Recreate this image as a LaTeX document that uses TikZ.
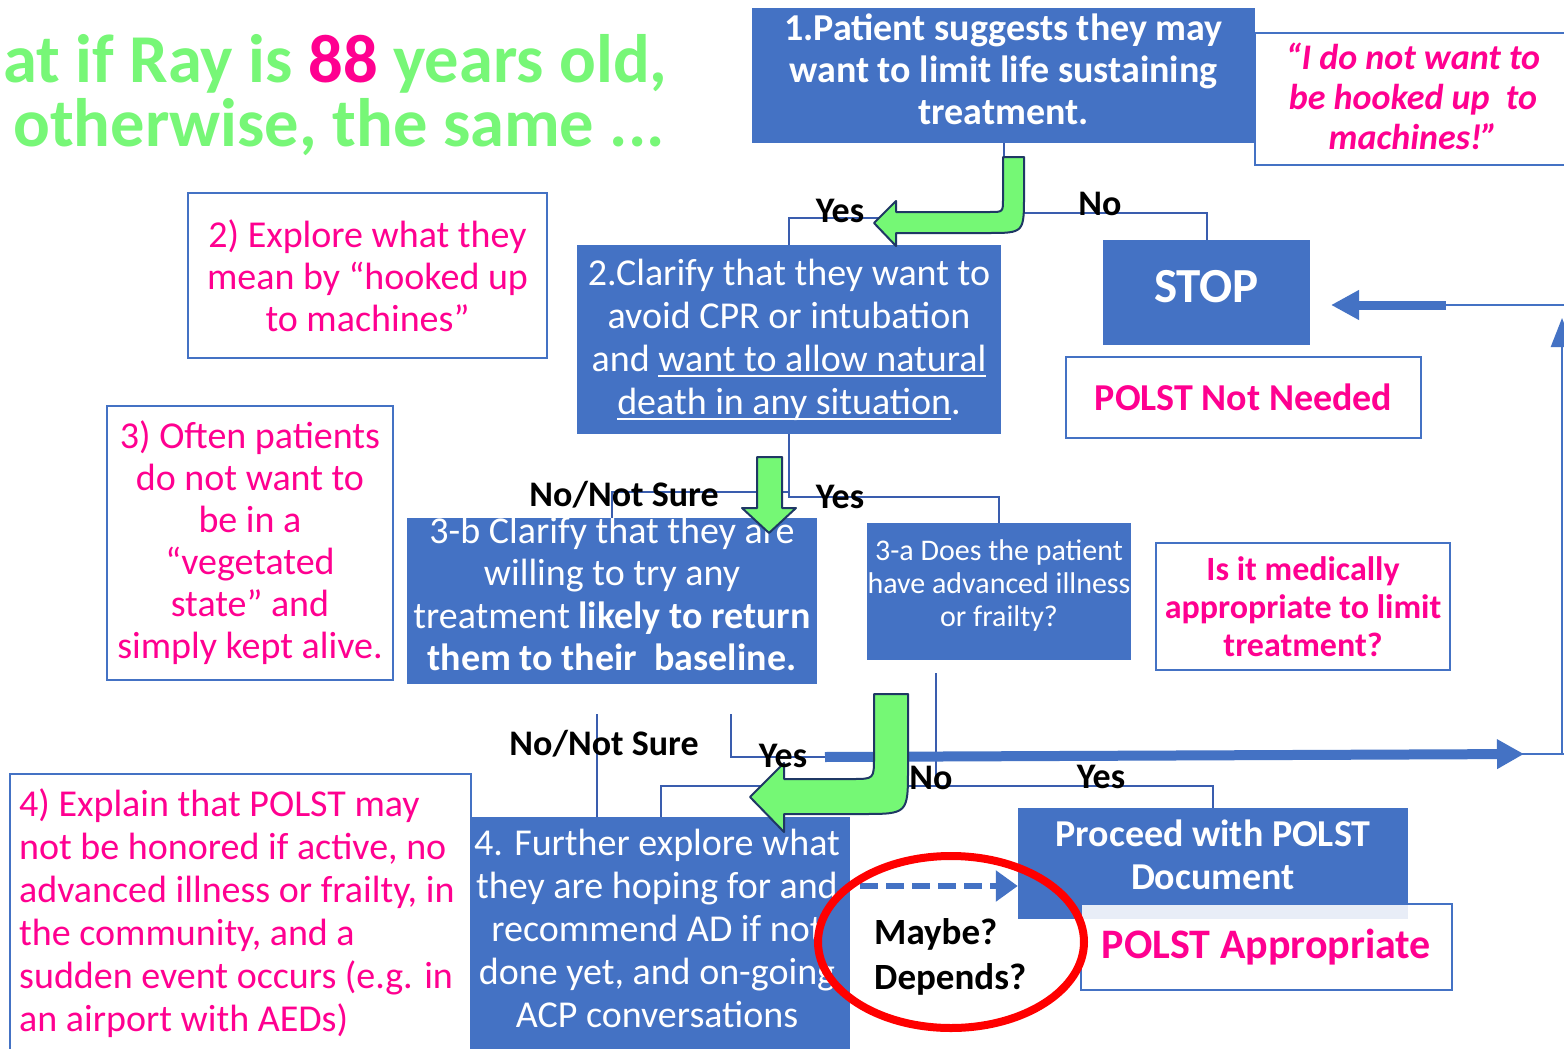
\documentclass[tikz,border=0pt]{standalone}
\usepackage{fontspec}
\setmainfont{Carlito}
\usetikzlibrary{arrows.meta}
\definecolor{boxblue}{HTML}{4472C4}
\definecolor{linkblue}{HTML}{3A5DAE}
\definecolor{hotpink}{HTML}{FF0090}
\definecolor{lightgreen}{HTML}{77F777}
\definecolor{arrowgreen}{HTML}{75F875}
\definecolor{navy}{HTML}{1F3864}
\newcommand{\setfs}[2]{\fontsize{#1}{#2}\selectfont}
\newcommand{\thickul}[1]{\setbox0\hbox{#1}\rlap{\rule[-6pt]{\wd0}{2pt}}\box0}

\tikzset{
  bluebox/.style={fill=boxblue, text=white, align=center, inner sep=0pt},
  boxtext/.style={text=white, align=center, inner sep=0pt},
  notebox/.style={draw=boxblue, line width=2pt, fill=white, text=hotpink, align=center, inner sep=0pt},
  link/.style={draw=linkblue, line width=2pt},
  lbl/.style={font=\setfs{36}{40}\bfseries, inner sep=0pt},
  greenarrow/.style={fill=arrowgreen, draw=navy, line width=2pt, line join=round},
}

\begin{document}
\begin{tikzpicture}[x=1pt, y=-1pt]
    \path [use as bounding box] (0,0) rectangle (1564,1049);
    \fill [white] (0,0) rectangle (1564,1049);
    \clip (0,0) rectangle (1564,1049);

    % title
    \node (title1) [anchor=base west, inner sep=0pt, text=lightgreen, font=\setfs{68.5}{64}\bfseries] at (3,82) {at if Ray is \textcolor{hotpink}{88} years old,};
    \node (title2) [anchor=base east, inner sep=0pt, text=lightgreen, font=\setfs{68.5}{64}\bfseries] at (665,146) {otherwise, the same ...};

    % boxes
    \node (patient) [bluebox, minimum width=503pt, minimum height=135pt] at (1003.5,75.5) {};
    \node (patienttext) [boxtext, font=\setfs{38}{42}\bfseries] at (1003.5,69.5) {1.Patient suggests they may\\want to limit life sustaining\\treatment.};
    \node (quote) [notebox, minimum width=316pt, minimum height=132pt] at (1413,99) {};
    \node (quotetext) [text=hotpink, align=center, inner sep=0pt, font=\setfs{36}{40}\bfseries\itshape] at (1413,96) {“I do not want to\\be hooked up\ \ to\\machines!”};
    \node (clarify) [bluebox, minimum width=424pt, minimum height=189pt, font=\setfs{38}{43}] at (789,339.5) {2.Clarify that they want to\\avoid CPR or intubation\\and \thickul{want to allow natural}\\\thickul{death in any situation}.};
    \node (stop) [bluebox, minimum width=207pt, minimum height=105pt] at (1206.5,292.5) {};
    \node (stoptext) [boxtext, font=\setfs{49}{50}\bfseries] at (1206.5,286.5) {STOP};
    \node (notneeded) [notebox, minimum width=355pt, minimum height=81pt, font=\setfs{38}{42}\bfseries] at (1243.5,397.5) {POLST Not Needed};
    \node (explore) [notebox, minimum width=359pt, minimum height=165pt, font=\setfs{38}{42}] at (367.5,275.5) {2) Explore what they\\mean by “hooked up\\to machines”};
    \node (often) [notebox, minimum width=286pt, minimum height=274pt, font=\setfs{38}{42}] at (250,543) {3) Often patients\\do not want to\\be in a\\“vegetated\\state” and\\simply kept alive.};
    \node (clarb) [bluebox, minimum width=410pt, minimum height=166pt] at (612,601) {};
    \node (clarbtext) [boxtext, font=\setfs{38}{42.5}] at (612,594) {3-b Clarify that they are\\willing to try any\\treatment \textbf{likely to return}\\\textbf{them to their\ \ baseline.}};
    \node (does) [bluebox, minimum width=264pt, minimum height=137pt] at (999,591.5) {};
    \node (doestext) [boxtext, font=\setfs{30}{33}] at (999,585) {3-a Does the patient\\have advanced illness\\or frailty?};
    \node (medical) [notebox, minimum width=294pt, minimum height=127pt, font=\setfs{34}{38}\bfseries] at (1303,606.5) {Is it medically\\appropriate to limit\\treatment?};
    \node (explain) [notebox, minimum width=461pt, minimum height=286pt] at (240.5,917) {};
    \node (explaintext) [anchor=west, align=left, text=hotpink, inner sep=0pt, font=\setfs{38}{43}] at (19,913) {4) Explain that POLST may\\not be honored if active, no\\advanced illness or frailty, in\\the community, and a\\sudden event occurs (e.g. in\\an airport with AEDs)};
    \node (further) [bluebox, minimum width=379pt, minimum height=243pt] at (660.5,938.5) {};
    \node (furthertext) [boxtext, font=\setfs{38}{43}] at (657,928.5) {4. Further explore what\\they are hoping for and\\recommend AD if not\\done yet, and on-going\\ACP conversations};
    \node (proceed) [bluebox, minimum width=390pt, minimum height=111pt] at (1213,863.5) {};
    \node (proceedtext) [boxtext, font=\setfs{38}{43}\bfseries] at (1213,854.5) {Proceed with POLST\\Document};
    \node (polstok) [notebox, fill opacity=0.88, text opacity=1, minimum width=371pt, minimum height=86pt, font=\setfs{42}{46}\bfseries] at (1266.5,947) {POLST Appropriate};

    % connectors
    \draw [link] (patient.south) -- ++(0,70) -| (stop.north);
    \draw [link] (patient.south) -- ++(0,75) -| (clarify.north);
    \draw [link] (clarify.south) -- ++(0,58) -| (clarb.north);
    \draw [link] (clarify.south) -- ++(0,63) -| (does.north);
    \coordinate (nsure) at (597,714);
    \coordinate (ysure) at (731,714);
    \coordinate (barstart) at (825,757);
    \draw [link] (nsure) -- (nsure |- further.north);
    \draw [link] (ysure) |- (barstart);
    \coordinate (adown) at (936,673);
    \draw [link] (adown) -- ++(0,113) coordinate (asplit) -| (proceed.north);
    \draw [link] (asplit) -| (further.north);

    % blue arrows
    \draw [line width=10pt, boxblue, -{Triangle[length=27pt,width=28pt]}] (barstart) -- (1524,754);
    \draw [line width=2.5pt, boxblue] (1495,754) -- (1564,754);
    \draw [line width=2.5pt, boxblue, -{Triangle[length=29pt,width=22pt]}] (1562,755) -- (1562,318);
    \coordinate (stopin) at (1331,305);
    \draw [line width=2.5pt, boxblue] (1564,305) -- (1440,305);
    \draw [line width=9pt, boxblue, -{Triangle[length=28pt,width=28pt]}] (1446,305) -- (stopin);
    \coordinate (dashstart) at (860,886);
    \draw [line width=6pt, boxblue, dash pattern=on 18pt off 8pt, -{Triangle[length=22pt,width=30pt]}] (dashstart) -- (dashstart -| proceed.west);

    % green arrows
    \draw [greenarrow] (1003,157) -- (1024,157) -- (1024,195) .. controls (1024,233) .. (988,233) -- (896,233) -- (896,246) -- (874,223) -- (896,201) -- (896,212) -- (990,212) .. controls (1003,212) .. (1003,199) -- cycle;
    \draw [greenarrow] (757,457) -- (782,457) -- (782,508) -- (796,508) -- (769,533) -- (742,508) -- (757,508) -- cycle;
    \draw [greenarrow] (874,694) -- (908,694) -- (908,768) .. controls (908,814) .. (862,814) -- (784,814) -- (784,832) -- (750,797) -- (784,763) -- (784,779) -- (852,779) .. controls (874,779) .. (874,757) -- cycle;

    % labels
    \node (yes1) [lbl] at (840,211) {Yes};
    \node (no1) [lbl] at (1100,204) {No};
    \node (nsure1) [lbl] at (624,495) {No/Not Sure};
    \node (yes2) [lbl] at (840,497) {Yes};
    \node (nsure2) [lbl] at (604,744) {No/Not Sure};
    \node (yes3) [lbl] at (783,756) {Yes};
    \node (no2) [lbl] at (931,778) {No};
    \node (yes4) [lbl] at (1101,777) {Yes};

    % maybe
    \draw [red, line width=8pt] (951,942) ellipse [x radius=133pt, y radius=86pt];
    \node (maybe) [anchor=west, align=left, inner sep=0pt, font=\setfs{37}{45}\bfseries] at (874,957) {Maybe?\\Depends?};
\end{tikzpicture}
\end{document}
